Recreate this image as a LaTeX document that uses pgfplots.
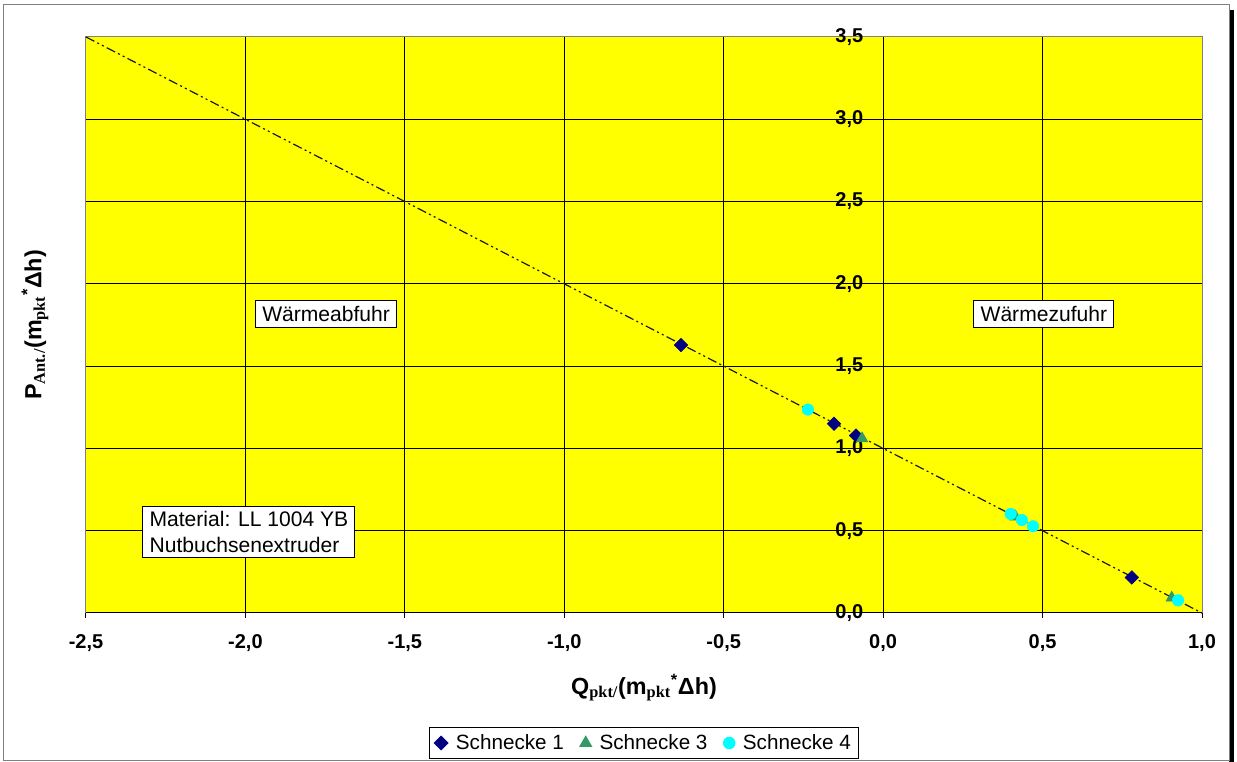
\documentclass[border=0pt]{standalone}
\usepackage{pgfplots}
\pgfplotsset{compat=1.18}
\usepackage{fontspec}
\setmainfont{Liberation Sans}
\newfontfamily\subfont{Liberation Serif}

\definecolor{plotyellow}{HTML}{FFFF00}
\definecolor{sOne}{HTML}{000080}
\definecolor{sThree}{HTML}{339966}
\definecolor{sFour}{HTML}{00FFFF}
\definecolor{frameGray}{HTML}{808080}

\newcommand{\sub}[1]{\textsubscript{\subfont\bfseries #1}}
\newcommand{\boxfont}{\fontsize{15.8}{19}\selectfont}

\begin{document}
\begin{tikzpicture}
\begin{axis}[
  at={(0,0)}, anchor=south west,
  scale only axis, width=837pt, height=432pt,
  xmin=-2.5, xmax=1, ymin=0, ymax=3.5,
  xtick={-2.5,-2,-1.5,-1,-0.5,0,0.5,1},
  ytick={0,0.5,1,1.5,2,2.5,3,3.5},
  grid=major,
  grid style={black, line width=0.75pt},
  axis background/.style={fill=plotyellow},
  axis line style={draw=frameGray, line width=0.75pt},
  xtick pos=bottom, ytick pos=left,
  xtick align=outside,
  major tick length=3.75pt,
  xtick style={black, line width=0.75pt},
  ytick style={draw=none},
  ticklabel style={font=\bfseries\fontsize{15}{17}\selectfont},
  xticklabel style={yshift=-9pt},
  yticklabel style={anchor=east, xshift=586.5pt},
  /pgf/number format/.cd, fixed, fixed zerofill, precision=1, use comma, assume math mode=true,
  /pgfplots/.cd,
  xlabel={\bfseries Q\sub{pkt/}(m\sub{pkt}\textsuperscript{*}Δh)},
  ylabel={\bfseries P\sub{Ant./}(m\sub{pkt}\textsuperscript{*}Δh)},
  label style={font=\bfseries\fontsize{17.5}{20}\selectfont},
  xlabel style={at={(axis description cs:0.5,-0.1302)}, anchor=center},
  ylabel style={at={(axis description cs:-0.0457,0.5)}, anchor=center},
  legend style={at={(axis description cs:0.5,-0.2257)}, anchor=center,
    legend columns=-1, draw=black, fill=white, line width=0.75pt,
    font=\fontsize{15.5}{17.5}\selectfont, inner xsep=4pt, inner ysep=3.5pt,
    /tikz/every odd column/.append style={column sep=4pt},
    /tikz/every even column/.append style={column sep=10pt}},
  legend cell align=left,
  clip=false,
]
% trend line Q + P = m*dh
\addplot[forget plot, black!90, line width=0.9pt,
  dash pattern=on 7pt off 2.5pt on 1.5pt off 2.5pt on 1.5pt off 2.5pt]
  coordinates {(-2.5,3.5) (1,0)};
% zero line of the x axis
\addplot[forget plot, black, line width=0.75pt] coordinates {(-2.5,0) (1,0)};

\addplot[only marks, mark=square*, mark size=3.6pt,
  mark options={rotate=45, fill=sOne, draw=sOne}]
  coordinates {(-0.634,1.628) (-0.154,1.150) (-0.085,1.078) (0.780,0.216)};
\addlegendentry{Schnecke 1}

\addplot[only marks, mark=triangle*, mark size=5pt,
  mark options={fill=sThree, draw=sThree}]
  coordinates {(-0.066,1.060) (0.415,0.585) (0.905,0.092)};
\addlegendentry{Schnecke 3}

\addplot[only marks, mark=*, mark size=4.3pt,
  mark options={fill=sFour, draw=sFour}]
  coordinates {(-0.236,1.236) (0.400,0.602) (0.435,0.565) (0.470,0.527) (0.925,0.077)};
\addlegendentry{Schnecke 4}

\node[draw=black, fill=white, line width=0.75pt, inner xsep=5pt, inner ysep=4pt,
  font=\boxfont] at (axis cs:-1.747,1.817) {Wärmeabfuhr};
\node[draw=black, fill=white, line width=0.75pt, inner xsep=5pt, inner ysep=4pt,
  font=\boxfont] at (axis cs:0.504,1.817) {Wärmezufuhr};
\node[draw=black, fill=white, line width=0.75pt, inner xsep=5pt, inner ysep=4pt,
  align=left, font=\boxfont] at (axis cs:-1.989,0.492)
  {Material: LL 1004 YB\\Nutbuchsenextruder};
\end{axis}
% chart frame with its shadow
\fill[black] (857.25pt,-111.75pt) rectangle (861pt,452pt);
\draw[frameGray, line width=0.75pt] (-61.5pt,-111pt) rectangle (857.25pt,456pt);
\useasboundingbox (-64.5pt,-111.75pt) rectangle (863.25pt,459.75pt);
\end{tikzpicture}
\end{document}
